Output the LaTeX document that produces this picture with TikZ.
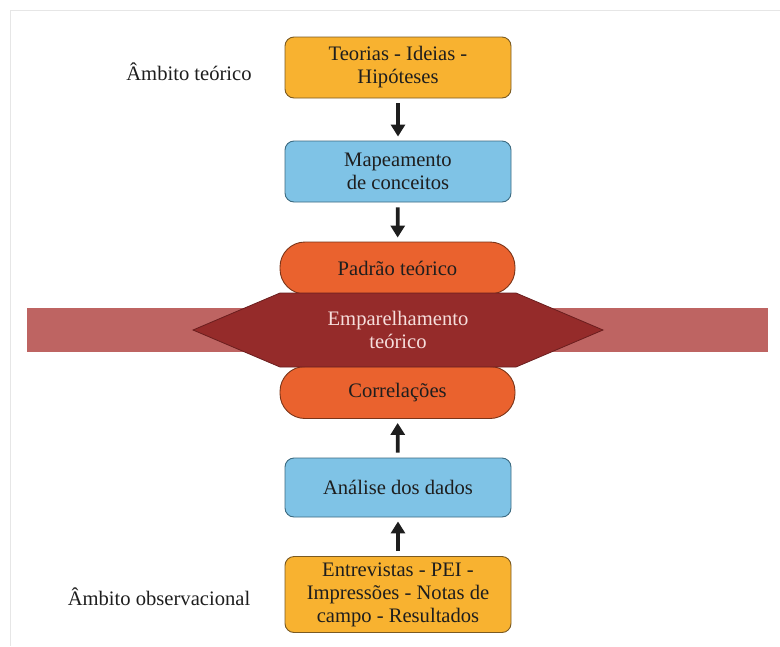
\documentclass[tikz,border=0pt]{standalone}
\usepackage{fontspec}
\setmainfont{Liberation Serif}
\usetikzlibrary{arrows.meta}
\definecolor{obox}{HTML}{F8B230}
\definecolor{oboxd}{HTML}{7A5A22}
\definecolor{bbox}{HTML}{7FC3E6}
\definecolor{bboxd}{HTML}{3C6A80}
\definecolor{stadc}{HTML}{EA622E}
\definecolor{stadd}{HTML}{7A3418}
\definecolor{hexc}{HTML}{952B2A}
\definecolor{hexd}{HTML}{6A1E1E}
\definecolor{bandc}{HTML}{BE6462}
\definecolor{txt}{HTML}{1E1E1E}
\definecolor{hextxt}{HTML}{F6DEDC}
\definecolor{framec}{HTML}{E6E6E6}
\begin{document}
\begin{tikzpicture}[x=1pt,y=-1pt,
  every node/.style={font=\fontsize{20.6}{23}\selectfont, text=txt, align=center, inner sep=0pt},
  rbox/.style={draw, line width=0.9pt, rounded corners=9pt, minimum width=226pt},
  obx/.style={rbox, fill=obox, draw=oboxd},
  bbx/.style={rbox, fill=bbox, draw=bboxd},
  stad/.style={draw=stadd, fill=stadc, line width=0.9pt, rounded corners=25pt, minimum width=235pt, minimum height=52pt},
  arr/.style={-{Triangle[width=14pt,length=12pt]}, line width=3.8pt, draw=txt, shorten <=5pt, shorten >=4pt}
]
\useasboundingbox (0,0) rectangle (780,646);
\draw[framec, line width=1pt] (10,646) -- (10,10) -- (780,10);
% band
\fill[bandc] (27,308) rectangle (768,352);
% boxes
\node[obx, minimum height=61pt] (teo) at (398,67.5) {Teorias - Ideias -\\Hipóteses};
\node[bbx, minimum height=61pt] (map) at (398,171.5) {Mapeamento\\de conceitos};
\node[stad] (pad) at (397.5,268) {Padrão teórico};
\node[stad] (cor) at (397.5,392.5) {Correlações};
\node[bbx, minimum height=59pt] (ana) at (398,487.5) {Análise dos dados};
\node[obx, minimum height=76pt] (ent) at (398,594.5) {Entrevistas - PEI -\\Impressões - Notas de\\campo - Resultados};
% hexagon
\coordinate (hl) at (193,330);
\coordinate (hr) at (603,330);
\filldraw[fill=hexc, draw=hexd, line width=0.8pt] (hl) -- (280,293) -- (516,293) -- (hr) -- (516,367) -- (280,367) -- cycle;
\node[text=hextxt] (emp) at (398,330) {Emparelhamento\\teórico};
% labels
\node (lt) at (189,72) {Âmbito teórico};
\node (lo) at (159,597) {Âmbito observacional};
% arrows
\draw[arr] (teo) -- (map);
\draw[arr] (map) -- (pad);
\draw[arr] (ana) -- (cor);
\draw[arr] (ent) -- (ana);
\end{tikzpicture}
\end{document}
